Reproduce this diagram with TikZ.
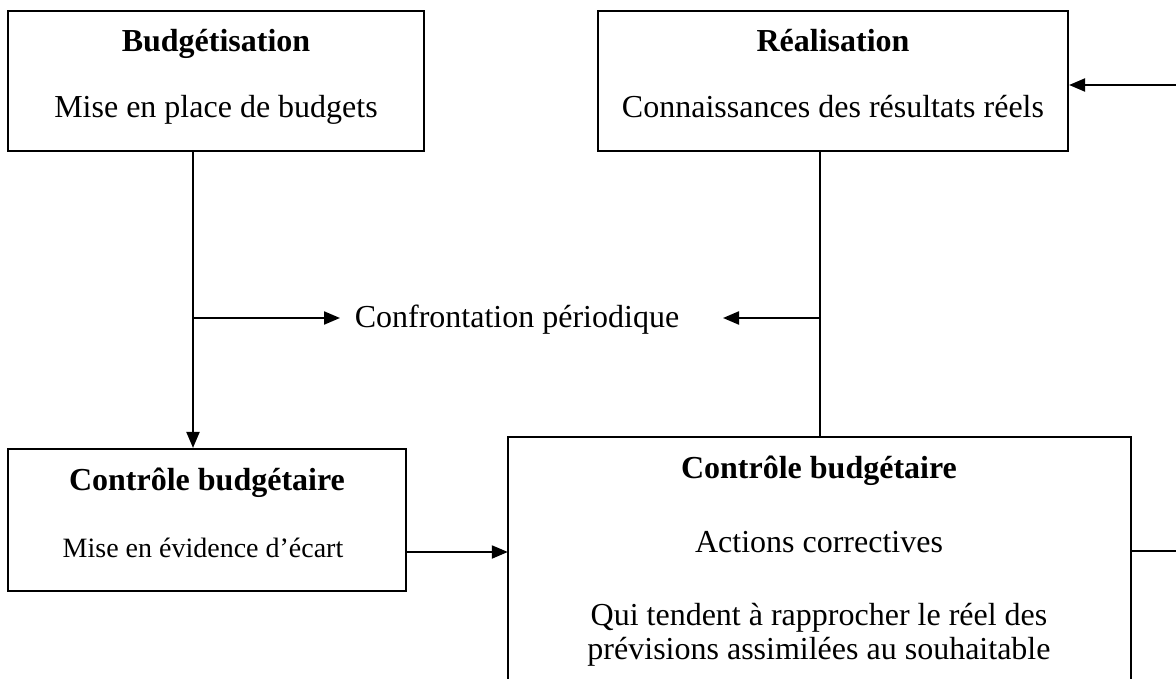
\documentclass[tikz,border=0pt]{standalone}
\usepackage{fontspec}
\setmainfont{Liberation Serif}
\usetikzlibrary{arrows.meta}
\begin{document}
\begin{tikzpicture}[x=1pt,y=-1pt,
  every node/.style={font=\fontsize{32}{37}\selectfont},
  box/.style={draw, line width=2.1pt, inner sep=0pt},
  txt/.style={anchor=base, inner sep=2pt},
  ttl/.style={txt, font=\fontsize{32}{37}\selectfont\bfseries},
  small/.style={txt, font=\fontsize{28}{33}\selectfont},
  conn/.style={line width=2.1pt},
  arr/.style={conn, -{Triangle[length=16pt,width=13pt]}}]
\useasboundingbox (0,0) rectangle (1176,679);

% boxes
\node[box, minimum width=416pt, minimum height=140pt] (budget) at (216,81) {};
\node[box, minimum width=470pt, minimum height=140pt] (real) at (833,81) {};
\node[box, minimum width=398pt, minimum height=142pt] (ctrl) at (207,520) {};
\node[inner sep=0pt, minimum width=623pt, minimum height=245pt] (big) at (819.5,559.5) {};
\draw[conn] (big.south west) -- (big.north west) -- (big.north east) -- (big.south east);

% texts
\node[ttl] (t1) at (216,52) {Budgétisation};
\node[txt] (t2) at (216,118) {Mise en place de budgets};
\node[ttl] (r1) at (833,52) {Réalisation};
\node[txt] (r2) at (833,118) {Connaissances des résultats réels};
\node[ttl] (c1) at (207,490) {Contrôle budgétaire};
\node[small] (c2) at (203,557) {Mise en évidence d’écart};
\node[ttl] (b1) at (819,478) {Contrôle budgétaire};
\node[txt] (b2) at (819,552) {Actions correctives};
\node[txt] (b3) at (819,625) {Qui tendent à rapprocher le réel des};
\node[txt] (b4) at (819,659) {prévisions assimilées au souhaitable};
\node[txt] (conf) at (517,327) {Confrontation périodique};

% connectors
\coordinate (split) at (193,318);
\coordinate (join) at (820,318);
\draw[arr] ([xshift=-23pt]budget.south) -- ([xshift=-14pt]ctrl.north);
\draw[arr] (split) -- (340,318);
\draw[conn] ([xshift=-13pt]real.south) -- ([xshift=0.5pt]big.north);
\draw[arr] (join) -- (723,318);
\coordinate (a3) at ([yshift=-32pt]ctrl.east);
\draw[arr] (a3) -- (a3 -| big.west);
\coordinate (edgeTop) at (1176,85);
\draw[arr] (edgeTop) -- (edgeTop -| real.east);
\coordinate (edgeBot) at (1176,551);
\draw[conn] (edgeBot -| big.east) -- (edgeBot);
\end{tikzpicture}
\end{document}
